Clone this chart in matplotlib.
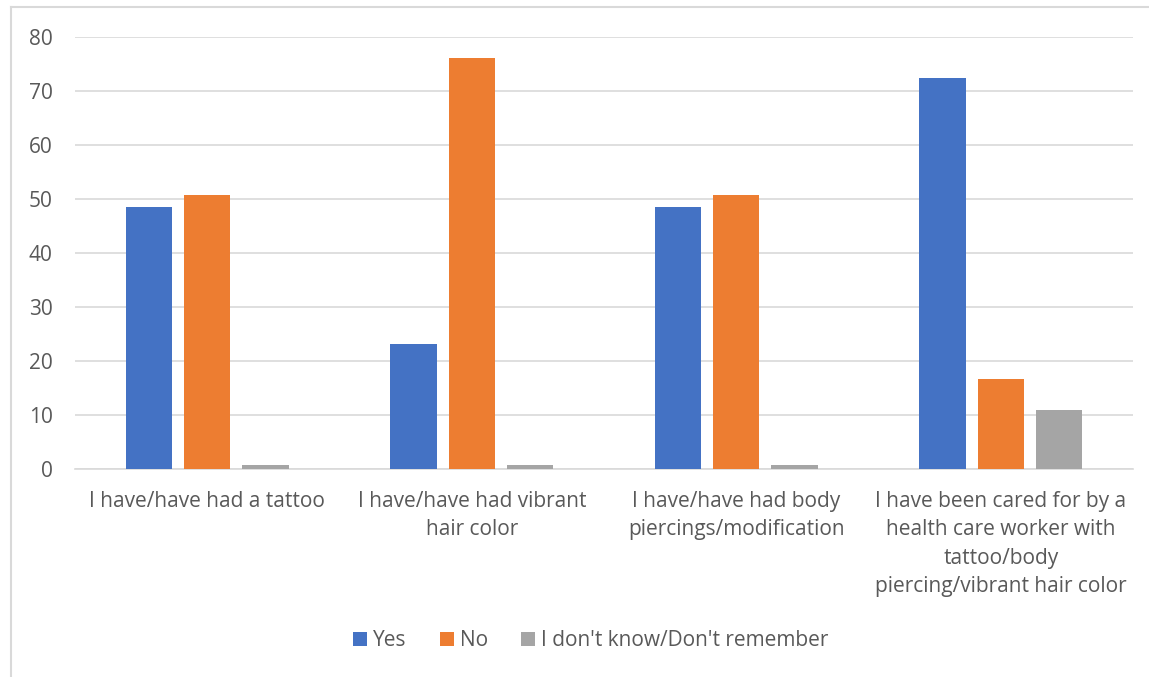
import matplotlib.pyplot as plt
from matplotlib.lines import Line2D
import numpy as np

plt.rcParams['font.family'] = ['Open Sans', 'DejaVu Sans']

categories = [
    'I have/have had a tattoo',
    'I have/have had vibrant\nhair color',
    'I have/have had body\npiercings/modification',
    'I have been cared for by a\nhealth care worker with\ntattoo/body\npiercing/vibrant hair color',
]
series_names = ['Yes', 'No', "I don't know/Don't remember"]
yes_vals = [48.6, 23.2, 48.6, 72.5]
no_vals = [50.7, 76.1, 50.7, 16.7]
dk_vals = [0.7, 0.7, 0.7, 10.9]
colors = ['#4472c4', '#ed7d31', '#a5a5a5']

fig = plt.figure(figsize=(11.49, 6.77), dpi=100, facecolor='white')
ax = fig.add_axes([75 / 1149, 1 - 469 / 677, (1133 - 75) / 1149, (469 - 37) / 677])

x = np.arange(len(categories))
w = 0.175
step = 0.22
for i, (vals, name, c) in enumerate(zip([yes_vals, no_vals, dk_vals], series_names, colors)):
    ax.bar(x + (i - 1) * step, vals, width=w, color=c, label=name, zorder=3)

ax.set_xlim(-0.5, len(categories) - 0.5)
ax.set_ylim(0, 80)
ax.set_yticks(range(0, 81, 10))
ax.yaxis.grid(True, color='#d9d9d9', linewidth=1.2, zorder=0)
ax.set_axisbelow(True)
for s in ['top', 'right', 'left']:
    ax.spines[s].set_visible(False)
ax.spines['bottom'].set_color('#d9d9d9')
ax.spines['bottom'].set_linewidth(1.2)

ax.set_xticks(x)
ax.set_xticklabels(categories, fontsize=15, color='#595959', linespacing=1.45)
ax.tick_params(axis='x', length=0, pad=16)
ax.tick_params(axis='y', length=0, pad=16, labelsize=15, labelcolor='#595959')

leg = fig.legend(loc='center', bbox_to_anchor=(591 / 1149, 1 - 641 / 677), ncol=3,
                 frameon=False, fontsize=15, handlelength=0.65, handleheight=0.65,
                 handletextpad=0.3, columnspacing=1.6)
for t in leg.get_texts():
    t.set_color('#595959')

# outer chart frame
fig.add_artist(Line2D([11 / 1149, 11 / 1149], [0, 1 - 7 / 677], color='#d9d9d9', linewidth=1.5))
fig.add_artist(Line2D([11 / 1149, 1], [1 - 7 / 677, 1 - 7 / 677], color='#d9d9d9', linewidth=1.5))

fig.savefig('out.png', dpi=100, facecolor='white')
